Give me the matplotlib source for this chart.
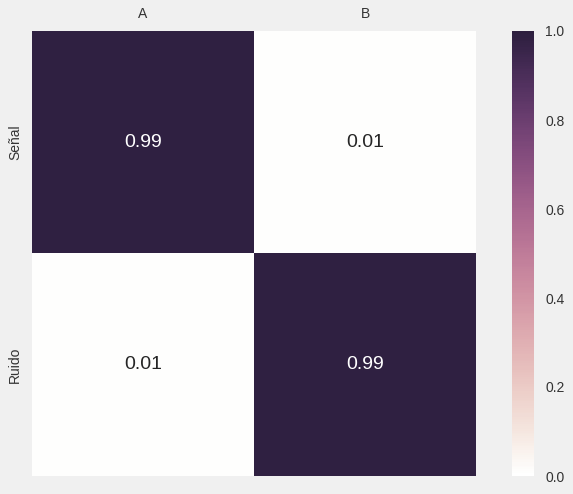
import matplotlib
matplotlib.use("Agg")
import matplotlib.pyplot as plt
import seaborn as sns
import numpy as np

rows = ["Señal", "Ruido"]
cols = ["A", "B"]
values = [[0.99, 0.01],
          [0.01, 0.99]]
cbar_ticks = [0.0, 0.2, 0.4, 0.6, 0.8, 1.0]

plt.rcParams['font.family'] = ['Liberation Sans', 'DejaVu Sans']
bg = "#f0f0f0"
fig = plt.figure(figsize=(5.73, 4.94), dpi=100, facecolor=bg)
ax = fig.add_axes([32/573, 1-476/494, 444/573, 445/494])
cax = fig.add_axes([512/573, 1-476/494, 22/573, 445/494])
cmap = sns.cubehelix_palette(light=1, as_cmap=True)
sns.heatmap(np.array(values), ax=ax, cbar_ax=cax, cmap=cmap, vmin=0, vmax=1,
            annot=True, fmt=".2f", annot_kws={"fontsize": 14},
            xticklabels=cols, yticklabels=rows)
ax.xaxis.tick_top()
ax.set_yticklabels(rows, rotation=90, va="center", fontsize=10)
ax.set_xticklabels(cols, rotation=0, fontsize=10)
ax.tick_params(length=0, colors="#333333", pad=7)
cax.set_yticks(cbar_ticks)
cax.set_yticklabels([f"{t:.1f}" for t in cbar_ticks], fontsize=10)
cax.tick_params(length=0, colors="#333333", pad=8)
for s in cax.spines.values():
    s.set_visible(False)
fig.savefig("out.png", dpi=100, facecolor=bg)
